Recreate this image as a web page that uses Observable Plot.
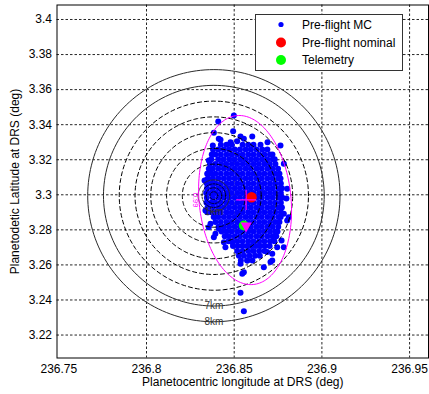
<!DOCTYPE html>
<html>
<head>
<meta charset="utf-8">
<script src="https://cdn.jsdelivr.net/npm/d3@7"></script>
<script src="https://cdn.jsdelivr.net/npm/@observablehq/plot@0.6"></script>
<style>
  body { margin: 0; background: #fff; }
  #chart { position: relative; width: 429px; height: 394px; }
</style>
</head>
<body>
<div id="chart"></div>
<script>
// Axis ticks and their printed labels
const xTicks = [236.75, 236.8, 236.85, 236.9, 236.95];
const xTickLabels = ["236.75", "236.8", "236.85", "236.9", "236.95"];
const yTicks = [3.22, 3.24, 3.26, 3.28, 3.3, 3.32, 3.34, 3.36, 3.38, 3.4];
const yTickLabels = ["3.22", "3.24", "3.26", "3.28", "3.3", "3.32", "3.34", "3.36", "3.38", "3.4"];

const xTitle = "Planetocentric longitude at DRS (deg)";
const yTitle = "Planetodetic Latitude at DRS (deg)";
const legendLabels = ["Pre-flight MC", "Pre-flight nominal", "Telemetry"];

// Pre-flight Monte Carlo dispersion: rows of [latitude, longitudes]
const mcRows = [
  [3.3285, [236.8424, 236.8456, 236.8486, 236.8548, 236.8580, 236.8610, 236.8650]],
  [3.3258, [236.8379, 236.8409, 236.8441, 236.8471, 236.8503, 236.8533, 236.8565, 236.8595, 236.8627, 236.8660, 236.8689]],
  [3.3230, [236.8372, 236.8393, 236.8424, 236.8456, 236.8486, 236.8518, 236.8548, 236.8580, 236.8610, 236.8642, 236.8672, 236.8704, 236.8718]],
  [3.3203, [236.8370, 236.8409, 236.8440, 236.8472, 236.8502, 236.8534, 236.8564, 236.8596, 236.8626, 236.8658, 236.8688, 236.8720, 236.8731]],
  [3.3175, [236.8362, 236.8393, 236.8425, 236.8455, 236.8487, 236.8517, 236.8549, 236.8579, 236.8611, 236.8641, 236.8673, 236.8703, 236.8735]],
  [3.3148, [236.8355, 236.8378, 236.8409, 236.8441, 236.8471, 236.8503, 236.8533, 236.8565, 236.8595, 236.8627, 236.8657, 236.8689, 236.8719, 236.8750]],
  [3.3120, [236.8350, 236.8370, 236.8393, 236.8424, 236.8456, 236.8486, 236.8518, 236.8548, 236.8580, 236.8610, 236.8642, 236.8672, 236.8704, 236.8734, 236.8758]],
  [3.3093, [236.8350, 236.8378, 236.8409, 236.8441, 236.8471, 236.8503, 236.8533, 236.8565, 236.8595, 236.8627, 236.8657, 236.8689, 236.8719, 236.8751, 236.8764]],
  [3.3065, [236.8344, 236.8369, 236.8393, 236.8424, 236.8456, 236.8486, 236.8518, 236.8548, 236.8580, 236.8610, 236.8642, 236.8672, 236.8704, 236.8734, 236.8766]],
  [3.3038, [236.8345, 236.8378, 236.8409, 236.8441, 236.8471, 236.8503, 236.8533, 236.8565, 236.8595, 236.8627, 236.8657, 236.8689, 236.8719, 236.8751, 236.8772]],
  [3.3010, [236.8340, 236.8366, 236.8393, 236.8424, 236.8456, 236.8486, 236.8518, 236.8548, 236.8580, 236.8610, 236.8642, 236.8672, 236.8704, 236.8734, 236.8766]],
  [3.2983, [236.8344, 236.8378, 236.8409, 236.8441, 236.8471, 236.8503, 236.8533, 236.8565, 236.8595, 236.8627, 236.8657, 236.8689, 236.8719, 236.8751, 236.8775]],
  [3.2955, [236.8342, 236.8368, 236.8393, 236.8424, 236.8456, 236.8486, 236.8518, 236.8548, 236.8580, 236.8610, 236.8642, 236.8672, 236.8704, 236.8734, 236.8766]],
  [3.2928, [236.8348, 236.8378, 236.8409, 236.8441, 236.8471, 236.8503, 236.8533, 236.8565, 236.8595, 236.8627, 236.8657, 236.8689, 236.8719, 236.8751, 236.8772]],
  [3.2900, [236.8352, 236.8371, 236.8393, 236.8424, 236.8456, 236.8486, 236.8518, 236.8548, 236.8580, 236.8610, 236.8642, 236.8672, 236.8704, 236.8734, 236.8766]],
  [3.2873, [236.8383, 236.8409, 236.8441, 236.8471, 236.8503, 236.8533, 236.8565, 236.8595, 236.8627, 236.8657, 236.8689, 236.8719, 236.8751, 236.8765]],
  [3.2845, [236.8393, 236.8424, 236.8456, 236.8486, 236.8518, 236.8548, 236.8580, 236.8610, 236.8642, 236.8672, 236.8704, 236.8734, 236.8758]],
  [3.2818, [236.8411, 236.8441, 236.8471, 236.8503, 236.8533, 236.8565, 236.8595, 236.8627, 236.8657, 236.8689, 236.8719, 236.8751]],
  [3.2790, [236.8428, 236.8456, 236.8486, 236.8518, 236.8548, 236.8580, 236.8610, 236.8642, 236.8672, 236.8704, 236.8734, 236.8747]],
  [3.2763, [236.8446, 236.8471, 236.8503, 236.8533, 236.8565, 236.8595, 236.8627, 236.8657, 236.8689, 236.8719, 236.8740]],
  [3.2735, [236.8468, 236.8486, 236.8518, 236.8548, 236.8580, 236.8610, 236.8642, 236.8672, 236.8704, 236.8729]],
  [3.2708, [236.8493, 236.8520, 236.8546, 236.8572, 236.8598, 236.8624, 236.8650, 236.8676, 236.8702]],
  [3.2680, [236.8517, 236.8548, 236.8580, 236.8610, 236.8642, 236.8672]],
  [3.2653, [236.8527, 236.8556, 236.8588, 236.8619, 236.8646]],
  [3.2625, [236.8538, 236.8575, 236.8604]]
];

// Scattered Monte Carlo cases around the core: [longitude, latitude]
const mcScattered = [
  [236.8498, 3.3452], [236.8409, 3.3418], [236.8384, 3.3354], [236.8494, 3.3363],
  [236.8422, 3.3314], [236.8378, 3.3281], [236.8479, 3.3300], [236.8764, 3.3281],
  [236.8783, 3.3177], [236.8355, 3.3196], [236.8802, 3.3034], [236.8336, 3.3082],
  [236.8811, 3.2872], [236.8336, 3.2910], [236.8355, 3.2815], [236.8783, 3.2701],
  [236.8384, 3.2758], [236.8450, 3.2701], [236.8717, 3.2663], [236.8707, 3.2616],
  [236.8536, 3.2606], [236.8555, 3.2558], [236.8669, 3.2587], [236.8574, 3.2625],
  [236.8536, 3.2441], [236.8555, 3.2336], [236.8802, 3.2853], [236.8770, 3.2739],
  [236.8745, 3.2701], [236.8717, 3.2625], [236.8688, 3.2673], [236.8546, 3.2549],
  [236.8603, 3.3333], [236.8555, 3.3320], [236.8783, 3.2892], [236.8346, 3.3120],
  [236.8331, 3.3082], [236.8346, 3.2901], [236.8365, 3.2835], [236.8412, 3.2806],
  [236.8393, 3.2778], [236.8441, 3.2730], [236.8489, 3.2730], [236.8412, 3.3320],
  [236.8536, 3.3333], [236.8798, 3.2979], [236.8690, 3.3300], [236.8517, 3.3306]
];

// Single points: pre-flight nominal, dispersion mean, telemetry, reconstructed fix
const nominal = [236.8599, 3.2986];
const mcMean = [236.8568, 3.2971];
const telemetry = [236.8555, 3.2825];
const reconstructed = [236.8568, 3.2817];

// Range rings around the target (km) and the km-to-degree factor near 3.3 deg latitude
const ringCenter = [236.8384, 3.2995];
const kmToDeg = 0.00899;
const ringsDashedKm = [2, 3, 4, 5, 6];
const ringsSolidKm = [1, 7, 8];
const ringsInnerKm = [0.25, 0.5, 0.75];
const ringsLabelledKm = [1, 7, 8];

// Dispersion ellipse: centre, semi-axes (deg), tilt (deg) and its contour label
const ellipseCenter = [236.8562, 3.2970];
const ellipseSemiMajor = 0.0484;
const ellipseSemiMinor = 0.0262;
const ellipseTiltDeg = 5.6;
const ellipseLabel = "0.99";

// ---- geometry helpers ----
function ring(km) {
  const r = km * kmToDeg;
  return d3.range(181).map(i => {
    const t = 2 * Math.PI * i / 180;
    return {km, lon: ringCenter[0] + r * Math.cos(t), lat: ringCenter[1] + r * Math.sin(t)};
  });
}
const th = ellipseTiltDeg * Math.PI / 180;
const ellipse = d3.range(181).map(i => {
  const t = 2 * Math.PI * i / 180;
  const u = ellipseSemiMinor * Math.cos(t), v = ellipseSemiMajor * Math.sin(t);
  // major axis leans to lower longitude as latitude grows
  return {lon: ellipseCenter[0] + u * Math.cos(th) - v * Math.sin(th),
          lat: ellipseCenter[1] + u * Math.sin(th) + v * Math.cos(th)};
});
const ellipseLeft = ellipseCenter[0] - Math.sqrt((ellipseSemiMinor * Math.cos(th)) ** 2 + (ellipseSemiMajor * Math.sin(th)) ** 2);

const mc = mcRows.flatMap(([lat, lons]) => lons.map(lon => ({lon, lat})))
  .concat(mcScattered.map(([lon, lat]) => ({lon, lat})));

const triangleDown = {
  draw(ctx, size) {
    const r = Math.sqrt(size / Math.PI);
    ctx.moveTo(-r, -0.8 * r);
    ctx.lineTo(r, -0.8 * r);
    ctx.lineTo(0, r);
    ctx.closePath();
  }
};

const font = "'Liberation Sans', Arial, Helvetica, sans-serif";
const W = 429, H = 394;
const mL = 56.5, mR = 1, mT = 4.5, mB = 36.5;

const plot = Plot.plot({
  width: W, height: H,
  marginLeft: mL, marginRight: mR, marginTop: mT, marginBottom: mB,
  style: {fontFamily: font, fontSize: "12px", color: "#000", background: "#fff", overflow: "visible"},
  x: {domain: [236.74897, 236.96078]},
  y: {domain: [3.20690, 3.40827]},
  marks: [
    // dotted grid
    Plot.ruleX(xTicks.slice(1), {stroke: "#000", strokeWidth: 1, strokeDasharray: "2.5,2", strokeOpacity: 0.85}),
    Plot.ruleY(yTicks, {stroke: "#000", strokeWidth: 1, strokeDasharray: "2.5,2", strokeOpacity: 0.85}),

    // Monte Carlo cases
    Plot.dot(mc, {x: "lon", y: "lat", r: 3, fill: "#0000ff"}),

    // range rings
    Plot.line(ringsDashedKm.flatMap(ring), {x: "lon", y: "lat", z: "km", stroke: "#000", strokeWidth: 1, strokeDasharray: "4,3"}),
    Plot.line(ringsInnerKm.flatMap(ring), {x: "lon", y: "lat", z: "km", stroke: "#000", strokeWidth: 1, strokeDasharray: "2,1.5"}),
    Plot.line(ringsSolidKm.flatMap(ring), {x: "lon", y: "lat", z: "km", stroke: "#2a2a2a", strokeWidth: 1}),
    Plot.text(ringsLabelledKm, {
      x: () => ringCenter[0], y: km => ringCenter[1] - km * kmToDeg,
      text: km => km + "km", fontSize: 10, fill: "#333", lineAnchor: "middle"
    }),

    // dispersion ellipse
    Plot.line(ellipse, {x: "lon", y: "lat", stroke: "#ff00ff", strokeWidth: 1}),
    Plot.text([ellipseLabel], {
      x: () => ellipseLeft, y: () => ellipseCenter[1], text: d => d,
      rotate: 90, dx: -3, fontSize: 7.5, fill: "#ff00ff", lineAnchor: "middle", textAnchor: "middle"
    }),

    // nominal, mean, telemetry
    Plot.dot([nominal], {x: d => d[0], y: d => d[1], r: 5.2, fill: "#ff0000"}),
    Plot.dot([mcMean], {x: d => d[0], y: d => d[1], r: 6.5, symbol: "plus", stroke: "#ff00ff", strokeWidth: 1.2}),
    Plot.dot([telemetry], {x: d => d[0], y: d => d[1], r: 5, fill: "#00ff00"}),
    Plot.dot([reconstructed], {x: d => d[0], y: d => d[1], r: 5.6, symbol: triangleDown, fill: "#ff00ff"}),

    // frame, axes and titles
    Plot.frame({stroke: "#000", strokeWidth: 1}),
    Plot.axisX(xTicks, {tickSize: 0, tickPadding: 6, tickFormat: d => xTickLabels[xTicks.indexOf(d)], label: null, fontSize: 12}),
    Plot.axisY(yTicks, {tickSize: 0, tickPadding: 5, tickFormat: d => yTickLabels[yTicks.indexOf(d)], label: null, fontSize: 12}),
    Plot.text([xTitle], {frameAnchor: "bottom", dy: 24.5, text: d => d, fontSize: 12, lineAnchor: "middle", textAnchor: "middle", fill: "#000"}),
    Plot.text([yTitle], {frameAnchor: "left", dx: -41.5, rotate: -90, text: d => d, fontSize: 12, lineAnchor: "middle", textAnchor: "middle", fill: "#000"})
  ]
});

// legend box in the upper right of the axes
const svg = d3.select(plot);
const lg = svg.append("g").attr("font-family", font).attr("font-size", 12).attr("text-anchor", "start");
lg.append("rect").attr("x", 255.5).attr("y", 14.5).attr("width", 147).attr("height", 56)
  .attr("fill", "#fff").attr("stroke", "#333").attr("stroke-width", 1);
const legendStyle = [
  {fill: "#0000ff", r: 2.6, y: 24.5},
  {fill: "#ff0000", r: 5, y: 42.5},
  {fill: "#00ff00", r: 5, y: 60}
];
legendLabels.forEach((label, i) => {
  const s = legendStyle[i];
  lg.append("circle").attr("cx", 281).attr("cy", s.y).attr("r", s.r).attr("fill", s.fill);
  lg.append("text").attr("x", 302).attr("y", s.y + 4.3).attr("text-anchor", "start").attr("fill", "#000").text(label);
});

document.getElementById("chart").appendChild(plot);
</script>
</body>
</html>
